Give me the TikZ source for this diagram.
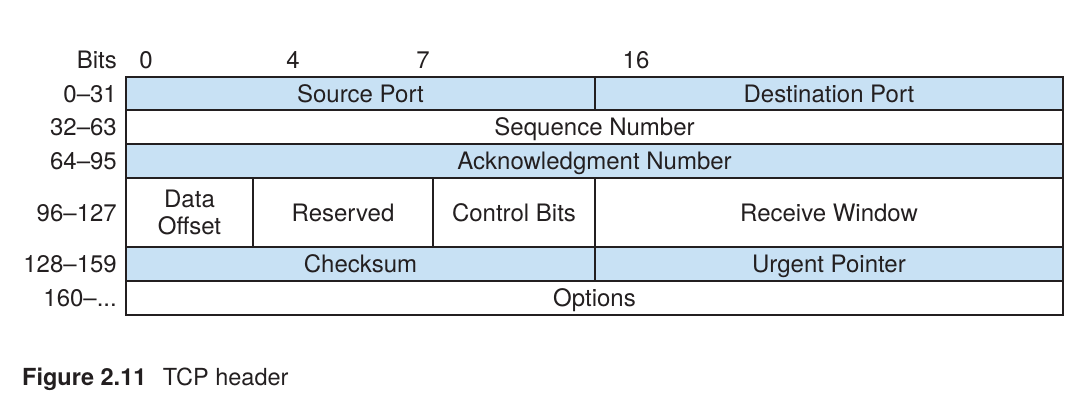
\documentclass[tikz,border=0pt]{standalone}
\usepackage{fontspec}
\setmainfont{TeX Gyre Heros}
\definecolor{tcpblue}{HTML}{C8E1F4}
\definecolor{ink}{HTML}{231F20}
\begin{document}
\begin{tikzpicture}[x=1pt,y=-1pt,
  every node/.style={text=ink, font=\fontsize{24}{27}\selectfont},
  caps/.style={text height=17.2pt, text depth=0pt},
  cell/.style={draw=ink, line width=1.8pt, inner sep=0pt, outer sep=0pt, align=center},
  blue/.style={cell, caps, fill=tcpblue},
  white/.style={cell, caps, fill=white},
  rowlabel/.style={anchor=east, inner sep=0pt, caps},
  bitlabel/.style={inner sep=0pt, caps}]
\useasboundingbox (0,0) rectangle (1083,404);
% header bits
\node[rowlabel] (bits) at (117,60) {Bits};
\node[bitlabel] (b0) at (146,60) {0};
\node[bitlabel] (b4) at (293,60) {4};
\node[bitlabel] (b7) at (423,60) {7};
\node[bitlabel] (b16) at (636,60) {16};
% row 1
\node[blue, minimum width=469pt, minimum height=33pt] (src) at (360.5,93.5) {Source Port};
\node[blue, minimum width=468pt, minimum height=33pt] (dst) at (829,93.5) {Destination Port};
% row 2
\node[white, minimum width=937pt, minimum height=34pt] (seq) at (594.5,127) {Sequence Number};
% row 3
\node[blue, minimum width=937pt, minimum height=34pt] (ack) at (594.5,161) {Acknowledgment Number};
% row 4
\node[cell, fill=white, minimum width=127pt, minimum height=69pt, font=\fontsize{24}{27}\selectfont] (off) at (189.5,212.5) {Data\\Offset};
\node[white, minimum width=180pt, minimum height=69pt] (res) at (343,212.5) {Reserved};
\node[white, minimum width=162pt, minimum height=69pt] (ctl) at (514,212.5) {Control Bits};
\node[white, minimum width=468pt, minimum height=69pt] (win) at (829,212.5) {Receive Window};
% row 5
\node[blue, minimum width=469pt, minimum height=34pt] (chk) at (360.5,264) {Checksum};
\node[blue, minimum width=468pt, minimum height=34pt] (urg) at (829,264) {Urgent Pointer};
% row 6
\node[white, minimum width=937pt, minimum height=34pt] (opt) at (594.5,298) {Options};
% row labels
\node[rowlabel] (r1) at (117,93.5) {0–31};
\node[rowlabel] (r2) at (117,127) {32–63};
\node[rowlabel] (r3) at (117,161) {64–95};
\node[rowlabel] (r4) at (117,212.5) {96–127};
\node[rowlabel] (r5) at (117,264) {128–159};
\node[rowlabel] (r6) at (117,298) {160–...};
% caption
\node[anchor=west, inner sep=0pt, caps, font=\fontsize{23.5}{27}\selectfont] (cap) at (22,377) {\textbf{Figure 2.11}\hspace{0.7em}TCP header};
\end{tikzpicture}
\end{document}
